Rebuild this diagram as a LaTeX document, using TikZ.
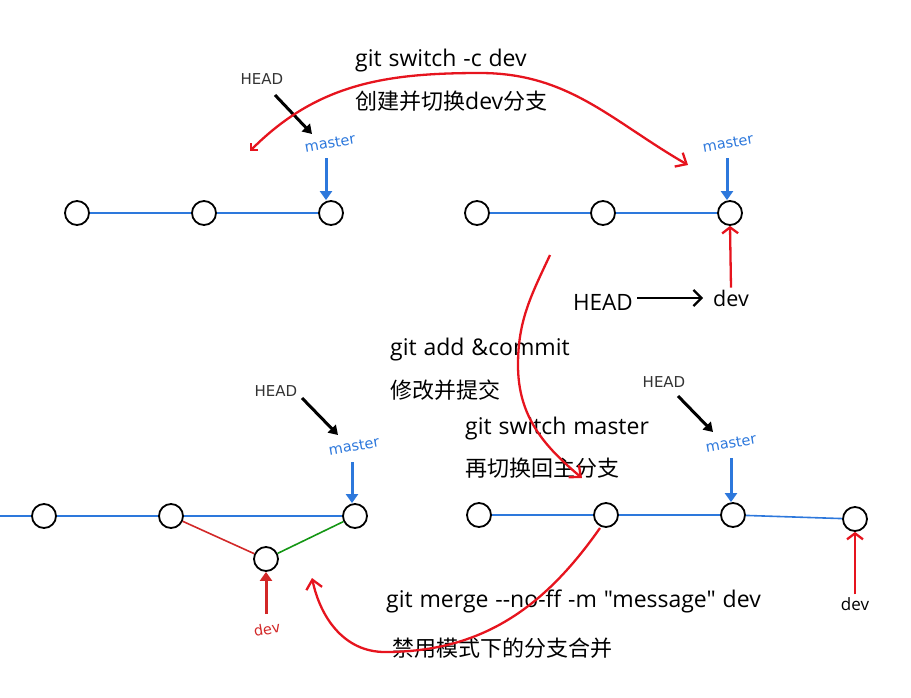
\documentclass[tikz,border=0pt]{standalone}
\usepackage{fontspec}
\setmainfont{Noto Sans CJK SC}[Ligatures=TeXOff]
\newfontfamily\labfont{DejaVu Sans}
\newfontfamily\latfont{Open Sans}[Ligatures=TeXOff,WordSpace=1.15]
\usetikzlibrary{arrows.meta}
\definecolor{gblue}{RGB}{45,120,220}
\definecolor{sred}{RGB}{230,20,30}
\definecolor{dred}{RGB}{210,40,40}
\definecolor{mgreen}{RGB}{20,150,20}
\tikzset{
  commit/.style={circle,draw=black,line width=1.8pt,fill=white,minimum size=24pt,inner sep=0pt},
  bline/.style={gblue,line width=1.6pt},
  headarrow/.style={black,line width=3pt,-{Triangle[length=9pt,width=11pt]}},
  masterarrow/.style={gblue,line width=3pt,-{Triangle[length=9pt,width=12pt]}},
  devarrow/.style={dred,line width=3pt,-{Triangle[length=9pt,width=12pt]}},
  sketch/.style={sred,line width=2.3pt,-{Straight Barb[length=9pt,width=16pt]}},
  cmd/.style={anchor=west,font=\fontsize{22}{24}\selectfont,inner sep=0pt},
  lcmd/.style={anchor=west,font=\latfont\fontsize{23}{26}\selectfont,inner sep=0pt},
  headlab/.style={font=\labfont\fontsize{15}{17}\selectfont,text=black!80,inner sep=0pt},
  masterlab/.style={font=\labfont\fontsize{14.5}{17}\selectfont,text=gblue,rotate=10,inner sep=0pt},
}
\begin{document}
\begin{tikzpicture}[x=1pt,y=-1pt]
\useasboundingbox (0,0) rectangle (911,697);
% ---------- top left ----------
\node[commit] (a1) at (77,213) {};
\node[commit] (a2) at (204,213) {};
\node[commit] (a3) at (331,213) {};
\draw[bline] (a1) -- (a2);
\draw[bline] (a2) -- (a3);
\node[headlab] (ahead) at (262,79) {HEAD};
\node[masterlab] (amaster) at (330,143) {master};
\draw[headarrow] (275,95) coordinate (ah0) -- (312,134) coordinate (ah1);
\coordinate (am0) at (326,158);
\draw[masterarrow] (am0) -- (a3.north -| am0);
% ---------- top right ----------
\node[commit] (b1) at (477,213) {};
\node[commit] (b2) at (603,213) {};
\node[commit] (b3) at (730,213) {};
\draw[bline] (b1) -- (b2);
\draw[bline] (b2) -- (b3);
\node[masterlab] (bmaster) at (728,143) {master};
\coordinate (bm0) at (727,158);
\draw[masterarrow] (bm0) -- (b3.north -| bm0);
\node[font=\latfont\fontsize{22.5}{24}\selectfont,inner sep=0pt] (bhead) at (603,302) {HEAD};
\node[font=\latfont\fontsize{21.5}{24}\selectfont,inner sep=0pt] (bdev) at (731,298) {dev};
\draw[black,line width=2.2pt,-{Straight Barb[length=8pt,width=16pt]}] (bhead.east) ++(4,-4) coordinate (bh0) -- ([xshift=-10pt]bdev.west |- bh0);
\draw[sketch,-{Straight Barb[length=6pt,width=16pt]}] (bdev.north) ++(0,-2) coordinate (bd0) -- (b3.south);
% ---------- bottom left ----------
\coordinate (clstart) at (0,516);
\node[commit] (c1) at (44,516) {};
\node[commit] (c2) at (171,516) {};
\node[commit] (c3) at (355,516) {};
\node[commit] (c4) at (266,559) {};
\draw[bline] (clstart) -- (c1);
\draw[bline] (c1) -- (c2);
\draw[bline] (c2) -- (c3);
\draw[dred,line width=1.6pt] (c2) -- (c4);
\draw[mgreen,line width=1.6pt] (c4) -- (c3);
\node[headlab] (chead) at (276,391) {HEAD};
\node[masterlab] (cmaster) at (354,446) {master};
\draw[headarrow] (302,398) coordinate (ch0) -- (338,435) coordinate (ch1);
\coordinate (cm0) at (352,462);
\draw[masterarrow] (cm0) -- (c3.north -| cm0);
\node[font=\labfont\fontsize{14.5}{17}\selectfont,text=dred,rotate=10,inner sep=0pt] (cdev) at (267,629) {dev};
\coordinate (cd0) at (266,614);
\draw[devarrow] (cd0) -- (c4.south);
% ---------- bottom right ----------
\node[commit] (d1) at (479,515) {};
\node[commit] (d2) at (606,515) {};
\node[commit] (d3) at (733,515) {};
\node[commit] (d4) at (855,519) {};
\draw[bline] (d1) -- (d2);
\draw[bline] (d2) -- (d3);
\draw[bline] (d3) -- (d4);
\node[headlab] (dhead) at (664,382) {HEAD};
\node[masterlab] (dmaster) at (731,443) {master};
\draw[headarrow] (678,396) coordinate (dh0) -- (713,432) coordinate (dh1);
\coordinate (dm0) at (731,458);
\draw[masterarrow] (dm0) -- (d3.north -| dm0);
\node[font=\latfont\fontsize{17}{19}\selectfont,inner sep=0pt] (ddev) at (855,604) {dev};
\draw[sketch,-{Straight Barb[length=6pt,width=16pt]}] (ddev.north) ++(0,-3) coordinate (dd0) -- (d4.south);
% ---------- commands ----------
\node[lcmd] (t1) at (355,61) {git switch -c dev};
\node[cmd] (t2) at (355,101) {创建并切换{\latfont\fontsize{23}{26}\selectfont dev}分支};
\node[lcmd] (t3) at (390,350) {git add \&commit};
\node[cmd] (t4) at (390,390) {修改并提交};
\node[lcmd] (t5) at (465,429) {git switch master};
\node[cmd] (t6) at (465,468) {再切换回主分支};
\node[lcmd] (t7) at (386,601) {git merge --no-ff -m "message" dev};
\node[cmd] (t8) at (392,648) {禁用模式下的分支合并};
% ---------- red sketch arrows ----------
\coordinate (s1a) at (250,151);
\coordinate (s1b) at (688,165);
\draw[sketch,{Straight Barb[length=5pt,width=10pt]}-{Straight Barb[length=9pt,width=16pt]}] (s1a) to[out=45,in=180] (480,73) to[out=0,in=150] (s1b);
\coordinate (s2a) at (550,255);
\coordinate (s2b) at (582,478);
\draw[sketch] (s2a) to[out=245,in=90] (518,365) to[out=-90,in=140] (s2b);
\coordinate (s3a) at (600,528);
\coordinate (s3b) at (312,578);
\draw[sketch] (s3a) to[out=235,in=0] (385,652) to[out=180,in=-78] (s3b);
\end{tikzpicture}
\end{document}
